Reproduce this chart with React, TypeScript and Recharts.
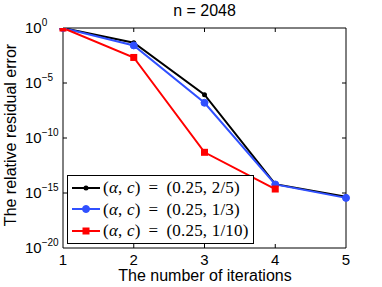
import { LineChart, Line, XAxis, YAxis, Legend } from "recharts"

const iterations = [1, 2, 3, 4, 5]
const errTwoFifths = [1, 4.6e-2, 8.7e-7, 6.3e-15, 4.5e-16]
const errOneThird = [1, 2.6e-2, 1.6e-7, 6.0e-15, 3.6e-16]
const errOneTenth = [1, 2.1e-3, 5e-12, 2.3e-15, null]
const seriesNames = ["(0.25, 2/5)", "(0.25, 1/3)", "(0.25, 1/10)"]
const xTicks = [1, 2, 3, 4, 5]
const yTicks = [1, 1e-5, 1e-10, 1e-15, 1e-20]

const BLUE = "#3050ff"
const RED = "#ff0000"
const seriesColors = ["#000", BLUE, RED]
const font = "'Liberation Sans', Arial, sans-serif"

const data = iterations.map((it, i) => ({
  it,
  a: errTwoFifths[i],
  b: errOneThird[i],
  c: errOneTenth[i],
}))

function BottomTick(props: any) {
  const { x, y, payload } = props
  const inner = payload.value !== 1 && payload.value !== 5
  return (
    <g>
      {inner && <line x1={x} x2={x} y1={y} y2={y - 4} stroke="#000" />}
      <text x={x} y={y + 16.5} textAnchor="middle" fontSize={15} fontFamily={font} fill="#000">
        {payload.value}
      </text>
    </g>
  )
}

function TopTick(props: any) {
  const { x, y, payload } = props
  if (payload.value === 1 || payload.value === 5) return <g />
  return <line x1={x} x2={x} y1={y} y2={y + 4} stroke="#000" />
}

function LeftTick(props: any) {
  const { x, y, payload } = props
  const e = Math.round(Math.log10(payload.value))
  const inner = e !== 0 && e !== -20
  return (
    <g>
      {inner && <line x1={x} x2={x + 4} y1={y} y2={y} stroke="#000" />}
      <text x={x - 38} y={y + 5} fontSize={15} fontFamily={font} fill="#000">
        10
        <tspan dy={-7} fontSize={10}>
          {e === 0 ? "0" : "\u2212" + -e}
        </tspan>
      </text>
    </g>
  )
}

function RightTick(props: any) {
  const { x, y, payload } = props
  const e = Math.round(Math.log10(payload.value))
  if (e === 0 || e === -20) return <g />
  return <line x1={x} x2={x - 4} y1={y} y2={y} stroke="#000" />
}

function SquareDot(props: any) {
  const { cx, cy, index } = props
  if (cy == null || isNaN(cy)) return <g key={index} />
  return <rect key={index} x={cx - 3.5} y={cy - 3.5} width={7} height={7} fill={RED} />
}

function Marker({ i, color }: { i: number; color: string }) {
  if (i === 0) return <circle cx={14} cy={6} r={2.5} fill={color} />
  if (i === 1) return <circle cx={14} cy={6} r={3.5} fill={color} stroke={color} />
  return <rect x={10.5} y={2.5} width={7} height={7} fill={color} />
}

function LegendBox() {
  return (
    <div
      style={{
        border: "1px solid #000",
        background: "#fff",
        width: 178,
        padding: "1px 3px 1px 4px",
        fontFamily: "'Liberation Serif', 'Times New Roman', serif",
        fontSize: 17,
        lineHeight: "21.5px",
        letterSpacing: 0.2,
        color: "#000",
      }}
    >
      {seriesNames.map((name, i) => (
        <div key={name} style={{ display: "flex", alignItems: "center", whiteSpace: "nowrap" }}>
          <svg width={29} height={12} style={{ marginRight: 2 }}>
            <line x1={0} x2={28} y1={6} y2={6} stroke={seriesColors[i]} strokeWidth={2} />
            <Marker i={i} color={seriesColors[i]} />
          </svg>
          <span>
            (<i>α</i>, <i>c</i>)&thinsp; = &thinsp;{name}
          </span>
        </div>
      ))}
    </div>
  )
}

export default function App() {
  return (
    <div style={{ position: "absolute", left: 0, top: 0, width: 382, height: 287, background: "#fff" }}>
      <LineChart
        width={382}
        height={287}
        data={data}
        margin={{ top: 27, right: 35, bottom: 38, left: 62 }}
      >
        <text x={204.5} y={16} textAnchor="middle" fontSize={16} fontFamily={font} fill="#000">
          n = 2048
        </text>
        <text
          x={16}
          y={135}
          transform="rotate(-90 16 135)"
          textAnchor="middle"
          fontSize={16}
          fontFamily={font}
          fill="#000"
        >
          The relative residual error
        </text>
        <text x={205} y={281} textAnchor="middle" fontSize={16} fontFamily={font} fill="#000">
          The number of iterations
        </text>
        <XAxis
          dataKey="it"
          type="number"
          domain={[1, 5]}
          ticks={xTicks}
          height={1}
          tickSize={0}
          tickMargin={0}
          tickLine={false}
          axisLine={{ stroke: "#000" }}
          tick={BottomTick}
          interval={0}
        />
        <XAxis
          xAxisId="top"
          orientation="top"
          dataKey="it"
          type="number"
          domain={[1, 5]}
          ticks={xTicks}
          height={1}
          tickSize={0}
          tickMargin={0}
          tickLine={false}
          axisLine={{ stroke: "#000" }}
          tick={TopTick}
          interval={0}
        />
        <YAxis
          type="number"
          scale="log"
          domain={[1e-20, 1]}
          ticks={yTicks}
          allowDataOverflow
          width={1}
          tickSize={0}
          tickMargin={0}
          tickLine={false}
          axisLine={{ stroke: "#000" }}
          tick={LeftTick}
          interval={0}
        />
        <YAxis
          yAxisId="right"
          orientation="right"
          type="number"
          scale="log"
          domain={[1e-20, 1]}
          ticks={yTicks}
          allowDataOverflow
          width={1}
          tickSize={0}
          tickMargin={0}
          tickLine={false}
          axisLine={{ stroke: "#000" }}
          tick={RightTick}
          interval={0}
        />
        <Legend
          layout="vertical"
          align="center"
          verticalAlign="middle"
          wrapperStyle={{ left: 67, top: 175, width: "auto" }}
          content={LegendBox}
        />
        <Line
          dataKey="a"
          name={seriesNames[0]}
          stroke="#000"
          strokeWidth={2}
          dot={{ r: 2.5, fill: "#000", stroke: "#000", strokeWidth: 0 }}
          isAnimationActive={false}
        />
        <Line
          dataKey="b"
          name={seriesNames[1]}
          stroke={BLUE}
          strokeWidth={2}
          dot={{ r: 3.5, fill: BLUE, stroke: BLUE, strokeWidth: 1 }}
          isAnimationActive={false}
        />
        <Line
          dataKey="c"
          name={seriesNames[2]}
          stroke={RED}
          strokeWidth={2}
          dot={SquareDot}
          isAnimationActive={false}
        />
      </LineChart>
    </div>
  )
}
